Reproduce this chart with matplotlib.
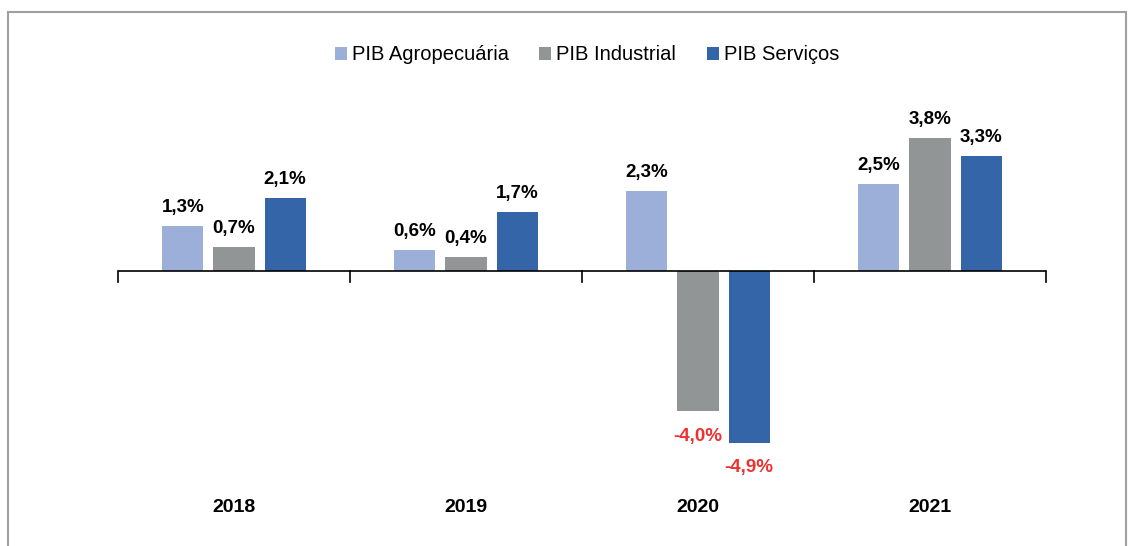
import matplotlib
matplotlib.use('Agg')
import matplotlib.pyplot as plt
import matplotlib.transforms as transforms
from matplotlib.patches import Rectangle
import numpy as np

plt.rcParams['font.family'] = ['Liberation Sans', 'DejaVu Sans']

# data
years = ['2018', '2019', '2020', '2021']
series_names = ['PIB Agropecuária', 'PIB Industrial', 'PIB Serviços']
agro = [1.3, 0.6, 2.3, 2.5]
industrial = [0.7, 0.4, -4.0, 3.8]
servicos = [2.1, 1.7, -4.9, 3.3]
colors = ['#9BAFD8', '#929596', '#3465A9']

fig = plt.figure(figsize=(11.35, 5.46), dpi=100)
ax = fig.add_axes([118 / 1135, 1 - 470 / 546, 928 / 1135, 370 / 546])

x = np.arange(len(years))
width = 0.177
step = 0.22
all_series = [agro, industrial, servicos]

for i, vals in enumerate(all_series):
    pos = x + (i - 1) * step
    ax.bar(pos, vals, width, color=colors[i], label=series_names[i])
    for px, v in zip(pos, vals):
        txt = ('%.1f%%' % v).replace('.', ',')
        if v >= 0:
            ax.annotate(txt, (px, v), xytext=(0, 13), textcoords='offset points',
                        ha='center', va='center', fontsize=13.5, fontweight='bold',
                        color='black')
        else:
            ax.annotate(txt, (px, v), xytext=(0, -18), textcoords='offset points',
                        ha='center', va='center', fontsize=13.5, fontweight='bold',
                        color='#EE3030')

ax.set_xlim(-0.5, len(years) - 0.5)
ax.set_ylim(-(470 - 271) / 35, (271 - 100) / 35)

# zero line with category separators
ax.axhline(0, color='black', linewidth=1.2)
for b in np.arange(-0.5, len(years), 1.0):
    ax.plot([b, b], [0, -0.32], color='black', linewidth=1.2, clip_on=False)

for s in ax.spines.values():
    s.set_visible(False)
ax.set_xticks([])
ax.set_yticks([])

# year labels
trans = transforms.blended_transform_factory(ax.transData, fig.transFigure)
for xi, yr in zip(x, years):
    ax.text(xi, 1 - 507 / 546, yr, transform=trans, ha='center', va='center',
            fontsize=14, fontweight='bold')

fig.legend(loc='center', bbox_to_anchor=(587 / 1135, 1 - 55 / 546), ncol=3,
           frameon=False, fontsize=14.5, handlelength=0.6, handleheight=0.6,
           handletextpad=0.25, columnspacing=1.5)

# outer border
fig.patches.append(Rectangle((8 / 1135, -0.05), (1126 - 8) / 1135, 1.05 - 12 / 546,
                             transform=fig.transFigure, fill=False,
                             edgecolor='#A0A0A0', linewidth=1.5))

fig.savefig('out.png', dpi=100)
